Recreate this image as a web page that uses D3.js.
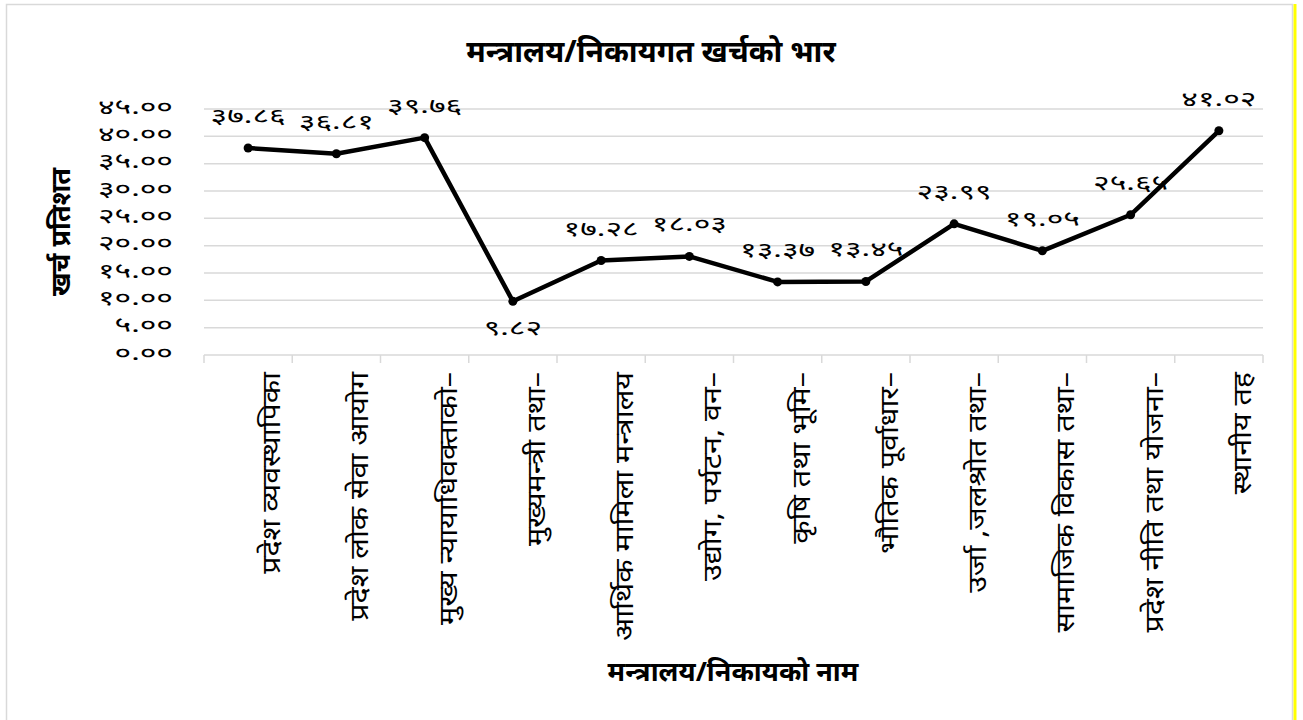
<!DOCTYPE html>
<html>
<head>
<meta charset="utf-8">
<script src="https://cdn.jsdelivr.net/npm/d3@7"></script>
<style>
  body { margin: 0; background: #fff; }
  svg { display: block; }
</style>
</head>
<body>
<div id="chart"></div>
<script>

var categories = [
  "प्रदेश व्यवस्थापिका",
  "प्रदेश लोक सेवा आयोग",
  "मुख्य न्यायाधिवक्ताको–",
  "मुख्यमन्त्री तथा–",
  "आर्थिक मामिला मन्त्रालय",
  "उद्योग, पर्यटन, वन–",
  "कृषि तथा भूमि–",
  "भौतिक पूर्वाधार–",
  "उर्जा ,जलश्रोत तथा–",
  "सामाजिक विकास तथा–",
  "प्रदेश नीति तथा योजना–",
  "स्थानीय तह"
];

var values = [37.86, 36.81, 39.76, 9.82, 17.28, 18.03, 13.37, 13.45, 23.99, 19.05, 25.65, 41.02];

// label below the point instead of above
var labelBelow = [false, false, false, true, false, false, false, false, false, false, false, false];

var yTicks = [0, 5, 10, 15, 20, 25, 30, 35, 40, 45];

var chartTitle = "मन्त्रालय/निकायगत खर्चको भार";
var yTitle = "खर्च प्रतिशत";
var xTitle = "मन्त्रालय/निकायको नाम";

var width = 1303, height = 720;
var fontFamily = "'Noto Sans', 'Noto Sans Devanagari', sans-serif";
var numStretch = 1.6;   // the original font is much wider
var labelStretch = 1.17;

var devDigits = "०१२३४५६७८९";

function toDev(str) {
  return String(str).replace(/[0-9]/g, function(d) { return devDigits[+d]; });
}

var svg = d3.select("#chart").append("svg")
  .attr("width", width)
  .attr("height", height);

// chart frame
svg.append("rect")
  .attr("x", 6.5).attr("y", 4.5)
  .attr("width", 1286).attr("height", 730)
  .attr("fill", "#fff")
  .attr("stroke", "#d9d9d9")
  .attr("stroke-width", 1.5);

svg.append("line")
  .attr("x1", 1295).attr("x2", 1295)
  .attr("y1", 4).attr("y2", height)
  .attr("stroke", "#ffff00")
  .attr("stroke-width", 3);

var x = d3.scaleBand()
  .domain(d3.range(categories.length))
  .range([204, 1263]);

var y = d3.scaleLinear()
  .domain([0, 45])
  .range([355, 109]);

// gridlines
svg.append("g")
  .selectAll("line")
  .data(yTicks.filter(function(d) { return d > 0; }))
  .enter()
  .append("line")
  .attr("x1", x.range()[0])
  .attr("x2", x.range()[1])
  .attr("y1", function(d) { return y(d); })
  .attr("y2", function(d) { return y(d); })
  .attr("stroke", "#d9d9d9")
  .attr("stroke-width", 1.5);

// y axis labels
var yAxis = d3.axisLeft(y)
  .tickValues(yTicks)
  .tickSize(0)
  .tickFormat(function(d) { return toDev(d.toFixed(2)); });

var yg = svg.append("g")
  .attr("transform", "translate(" + x.range()[0] + ",0)")
  .call(yAxis);
yg.select(".domain").remove();
yg.selectAll("text")
  .attr("x", -31 / numStretch)
  .attr("dy", "0.2em")
  .attr("transform", "scale(" + numStretch + ",1)")
  .attr("font-family", fontFamily)
  .attr("font-size", 20)
  .attr("fill", "#000");

// x axis
var boundaries = d3.range(categories.length + 1).map(function(i) {
  return x.range()[0] + i * x.step();
});

var xg = svg.append("g");
xg.append("line")
  .attr("x1", x.range()[0]).attr("x2", x.range()[1])
  .attr("y1", y(0)).attr("y2", y(0))
  .attr("stroke", "#d9d9d9")
  .attr("stroke-width", 1.5);
xg.selectAll(".tick")
  .data(boundaries)
  .enter()
  .append("line")
  .attr("class", "tick")
  .attr("x1", function(d) { return d; })
  .attr("x2", function(d) { return d; })
  .attr("y1", y(0))
  .attr("y2", y(0) + 8)
  .attr("stroke", "#d9d9d9")
  .attr("stroke-width", 1.5);

xg.selectAll(".xlabel")
  .data(categories)
  .enter()
  .append("text")
  .attr("class", "xlabel")
  .attr("transform", function(d, i) {
    return "translate(" + (x(i) + x.bandwidth() / 2 + 32) + "," + (y(0) + 17) + ") rotate(-90) scale(" + labelStretch + ",1)";
  })
  .attr("text-anchor", "end")
  .attr("font-family", fontFamily)
  .attr("font-size", 26)
  .attr("fill", "#000")
  .text(function(d) { return d; });

// line + markers
var line = d3.line()
  .x(function(d, i) { return x(i) + x.bandwidth() / 2; })
  .y(function(d) { return y(d); });

svg.append("path")
  .datum(values)
  .attr("d", line)
  .attr("fill", "none")
  .attr("stroke", "#000")
  .attr("stroke-width", 4.5)
  .attr("stroke-linejoin", "round");

svg.selectAll(".dot")
  .data(values)
  .enter()
  .append("circle")
  .attr("class", "dot")
  .attr("cx", function(d, i) { return x(i) + x.bandwidth() / 2; })
  .attr("cy", function(d) { return y(d); })
  .attr("r", 4.5)
  .attr("fill", "#000");

// data labels
svg.selectAll(".vlabel")
  .data(values)
  .enter()
  .append("text")
  .attr("class", "vlabel")
  .attr("transform", function(d, i) {
    var ly = labelBelow[i] ? y(d) + 34 : y(d) - 25;
    return "translate(" + (x(i) + x.bandwidth() / 2) + "," + ly + ") scale(" + numStretch + ",1)";
  })
  .attr("text-anchor", "middle")
  .attr("font-family", fontFamily)
  .attr("font-size", 20)
  .attr("fill", "#000")
  .text(function(d) { return toDev(d.toFixed(2)); });

// titles
svg.append("text")
  .attr("x", 651)
  .attr("y", 62)
  .attr("text-anchor", "middle")
  .attr("font-family", fontFamily)
  .attr("font-size", 30)
  .attr("font-weight", "bold")
  .attr("fill", "#000")
  .text(chartTitle);

svg.append("text")
  .attr("transform", "translate(70,232) rotate(-90)")
  .attr("text-anchor", "middle")
  .attr("font-family", fontFamily)
  .attr("font-size", 27)
  .attr("font-weight", "bold")
  .attr("fill", "#000")
  .text(yTitle);

svg.append("text")
  .attr("x", 733)
  .attr("y", 681)
  .attr("text-anchor", "middle")
  .attr("font-family", fontFamily)
  .attr("font-size", 27)
  .attr("font-weight", "bold")
  .attr("fill", "#000")
  .text(xTitle);

</script>
</body>
</html>
